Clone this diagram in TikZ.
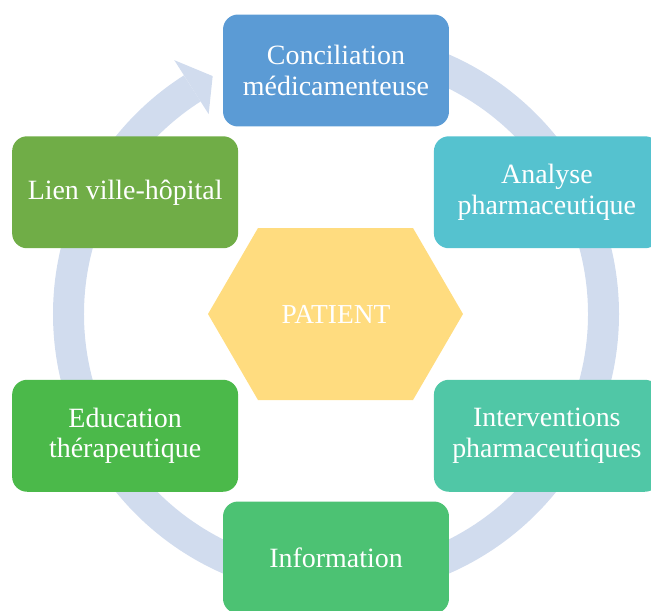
\documentclass[tikz,border=0pt]{standalone}
\usepackage{fontspec}
\setmainfont{Liberation Serif}
\usetikzlibrary{positioning}
\definecolor{anneaucol}{HTML}{D1DCEE}
\definecolor{concilcol}{HTML}{5B9BD5}
\definecolor{analysecol}{HTML}{55C2CF}
\definecolor{intervcol}{HTML}{50C7A6}
\definecolor{infocol}{HTML}{4CC273}
\definecolor{educcol}{HTML}{4BB94A}
\definecolor{liencol}{HTML}{70AD47}
\definecolor{patientcol}{HTML}{FFDC7F}

\begin{document}
\begin{tikzpicture}[x=0.02cm,y=0.02cm,
  etape/.style={rounded corners=0.3cm,minimum width=4.52cm,minimum height=2.24cm,
    inner sep=0pt,align=center,text=white,font=\fontsize{15.9}{17.4}\selectfont},
  anneau/.style={draw=anneaucol,line width=0.62cm}]
\clip (-336,-296) rectangle (315,314);
% cycle behind the steps
\draw[anneau] (90:267.5) arc[start angle=90,end angle=-237.5,radius=267.5];
\fill[anneaucol] (122.5:237) -- (117.4:268) -- (122.5:301) -- cycle;
% centre
\fill[patientcol] (-128,0) -- (-78,86) -- (77,86) -- (127,0) -- (77,-86) -- (-78,-86) -- cycle;
\node[text=white,font=\fontsize{15.6}{17.4}\selectfont] (patient) at (0,0) {PATIENT};
% steps
\node[etape,fill=concilcol] (concil) at (90:243.5) {Conciliation\\médicamenteuse};
\node[etape,fill=analysecol] (analyse) at (30:243.5) {Analyse\\pharmaceutique};
\node[etape,fill=intervcol] (interv) at (-30:243.5) {Interventions\\pharmaceutiques};
\node[etape,fill=infocol] (info) at (-90:243.5) {Information};
\node[etape,fill=educcol] (educ) at (-150:243.5) {Education\\thérapeutique};
\node[etape,fill=liencol] (lien) at (150:243.5) {Lien ville-hôpital};
\end{tikzpicture}
\end{document}
